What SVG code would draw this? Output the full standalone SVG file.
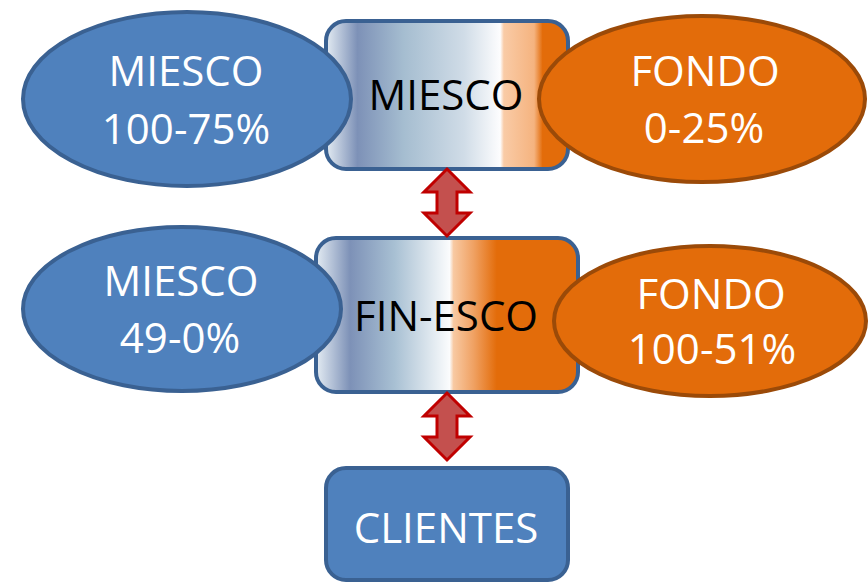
<svg xmlns="http://www.w3.org/2000/svg" width="868" height="583" viewBox="0 0 868 583">
  <defs>
    <linearGradient id="gradTop" x1="0" y1="0" x2="1" y2="0">
      <stop offset="0" stop-color="#e4ecf3"/>
      <stop offset="0.13" stop-color="#7d91b7"/>
      <stop offset="0.32" stop-color="#a5bdd0"/>
      <stop offset="0.57" stop-color="#d0dce7"/>
      <stop offset="0.72" stop-color="#fdfdfe"/>
      <stop offset="0.735" stop-color="#f9cba6"/>
      <stop offset="0.86" stop-color="#f5b37f"/>
      <stop offset="0.895" stop-color="#e36c0a"/>
      <stop offset="1" stop-color="#e36c0a"/>
    </linearGradient>
    <linearGradient id="gradMid" x1="0" y1="0" x2="1" y2="0">
      <stop offset="0" stop-color="#e4ecf3"/>
      <stop offset="0.13" stop-color="#7d91b7"/>
      <stop offset="0.30" stop-color="#a8c0d3"/>
      <stop offset="0.51" stop-color="#fbfcfd"/>
      <stop offset="0.525" stop-color="#f8c9a2"/>
      <stop offset="0.60" stop-color="#f0a264"/>
      <stop offset="0.69" stop-color="#e36c0a"/>
      <stop offset="1" stop-color="#e36c0a"/>
    </linearGradient>
  </defs>
  <style>
    .box { stroke: #3a6192; stroke-width: 4; }
    .blue { fill: #4f81bd; stroke: #3a6192; stroke-width: 4; }
    .orange { fill: #e36c0a; stroke: #9b4a08; stroke-width: 4; }
    .arrow { fill: #c4504e; stroke: #c00000; stroke-width: 3; stroke-linejoin: miter; }
    text { font-family: "Open Sans", "Noto Sans", "DejaVu Sans", sans-serif; font-size: 42px; text-anchor: middle; }
    .w { fill: #ffffff; }
    .k { fill: #000000; }
  </style>

  <!-- central boxes -->
  <g id="box-miesco">
    <rect class="box" x="326" y="21" width="242" height="148" rx="20" fill="url(#gradTop)"/>
    <text class="k" x="446" y="110">MIESCO</text>
  </g>
  <g id="box-finesco">
    <rect class="box" x="316" y="238" width="262" height="154" rx="20" fill="url(#gradMid)"/>
    <text class="k" x="446" y="331">FIN-ESCO</text>
  </g>
  <g id="box-clientes">
    <rect class="blue" x="326" y="468" width="242" height="112" rx="20"/>
    <text class="w" x="446" y="543">CLIENTES</text>
  </g>

  <!-- side ellipses -->
  <g id="ell-miesco-top">
    <ellipse class="blue" cx="187" cy="99" rx="164" ry="87"/>
    <text class="w" x="186" y="86">MIESCO</text>
    <text class="w" x="186" y="144">100-75%</text>
  </g>
  <g id="ell-fondo-top">
    <ellipse class="orange" cx="702" cy="99" rx="163" ry="83"/>
    <text class="w" x="705" y="86">FONDO</text>
    <text class="w" x="704" y="143">0-25%</text>
  </g>
  <g id="ell-miesco-mid">
    <ellipse class="blue" cx="182" cy="309" rx="159" ry="82"/>
    <text class="w" x="181" y="296">MIESCO</text>
    <text class="w" x="180" y="353">49-0%</text>
  </g>
  <g id="ell-fondo-mid">
    <ellipse class="orange" cx="710" cy="321" rx="156" ry="75"/>
    <text class="w" x="711" y="309">FONDO</text>
    <text class="w" x="712" y="364">100-51%</text>
  </g>

  <!-- connectors: double-headed block arrows -->
  <g id="connectors">
    <polygon class="arrow" points="447,169 470,192 457,192 457,213 470,213 447,236 424,213 437,213 437,192 424,192"/>
    <polygon class="arrow" points="447,393 470,416 457,416 457,437 470,437 447,460 424,437 437,437 437,416 424,416"/>
  </g>
</svg>
